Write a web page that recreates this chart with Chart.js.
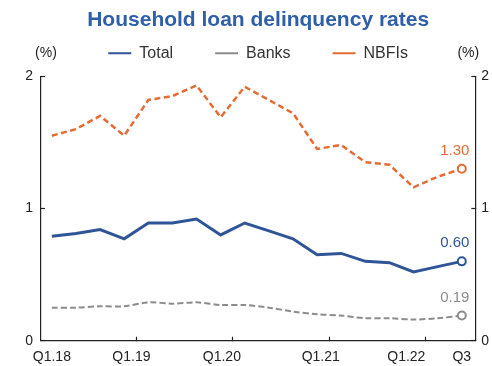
<!DOCTYPE html>
<html lang="en">

<head>
  <meta charset="UTF-8">
  <title>Household loan delinquency rates</title>
  <style>
    html, body { margin: 0; padding: 0; background: #fff; }
    #wrap { width: 492px; height: 366px; }
  </style>
</head>

<body>
  <div id="wrap"><canvas id="chart"></canvas></div>

  <script src="https://cdn.jsdelivr.net/npm/chart.js@4/dist/chart.umd.min.js"></script>

  <script>
    // delinquency rates in %, one value per quarter from Q1.18
    const total = [0.79, 0.81, 0.84, 0.77, 0.89, 0.89, 0.92, 0.80, 0.89, 0.83, 0.77, 0.65, 0.66, 0.60, 0.59, 0.52, 0.56, 0.60]
    const banks = [0.25, 0.25, 0.26, 0.26, 0.29, 0.28, 0.29, 0.27, 0.27, 0.25, 0.22, 0.20, 0.19, 0.17, 0.17, 0.16, 0.17, 0.19]
    const nbfis = [1.55, 1.60, 1.70, 1.55, 1.82, 1.85, 1.93, 1.69, 1.92, 1.82, 1.72, 1.45, 1.48, 1.35, 1.33, 1.16, 1.24, 1.30]

    // x axis labels (placed at quarter index) and year-boundary tick marks
    const xLabels = ['Q1.18', 'Q1.19', 'Q1.20', 'Q1.21', 'Q1.22', 'Q3']
    const xLabelAt = [0, 3.3, 7.05, 11.15, 14.7, 17]
    const yearBreaks = [3.5, 7.5, 11.5, 15.5]
    const yTicks = [0, 1, 2]

    const BLUE = '#2f5597'
    const GREY = '#8c8c8c'
    const ORANGE = '#e36c35'
    const AXIS = '#222'
    const SANS = "'Liberation Sans', Arial, sans-serif"
    const NARROW = "'Liberation Sans Narrow', 'Liberation Sans', Arial, sans-serif"

    Chart.defaults.font.family = SANS
    Chart.defaults.color = AXIS

    const toXY = arr => arr.map((v, i) => ({ x: i, y: v }))
    const lastOnly = ctx => ctx.dataIndex === ctx.dataset.data.length - 1 ? 4 : 0

    // value label above the last point of each line
    const endLabels = {
      id: 'endLabels',
      afterDatasetsDraw(chart) {
        const c = chart.ctx
        c.save()
        c.font = '15px ' + NARROW
        c.textAlign = 'center'
        c.textBaseline = 'middle'
        chart.data.datasets.forEach((ds, i) => {
          const pts = chart.getDatasetMeta(i).data
          const p = pts[pts.length - 1]
          c.fillStyle = ds.borderColor
          c.fillText(ds.data[ds.data.length - 1].y.toFixed(2), p.x - 7, p.y - 18)
        })
        c.restore()
      }
    }

    // "(%)" unit above each y axis
    const units = {
      id: 'units',
      afterDraw(chart) {
        const c = chart.ctx
        const a = chart.chartArea
        c.save()
        c.font = '14px ' + SANS
        c.fillStyle = AXIS
        c.textAlign = 'center'
        c.textBaseline = 'middle'
        c.fillText('(%)', a.left + 5, a.top - 23)
        c.fillText('(%)', a.right - 7, a.top - 23)
        c.restore()
      }
    }

    const yAxis = (position, width, pad) => ({
      type: 'linear',
      position,
      min: 0,
      max: 2,
      afterFit: s => { s.width = width },
      afterBuildTicks: s => { s.ticks = yTicks.map(v => ({ value: v })) },
      ticks: { padding: pad, font: { size: 14 }, color: AXIS },
      grid: { drawOnChartArea: false, tickLength: -4, tickColor: AXIS, tickWidth: 1.2 },
      border: { color: AXIS, width: 1.2 }
    })

    new Chart(document.getElementById('chart'), {
      type: 'line',
      data: {
        datasets: [
          {
            label: 'Total',
            data: toXY(total),
            borderColor: BLUE,
            borderWidth: 3,
            tension: 0,
            pointRadius: lastOnly,
            pointBackgroundColor: '#fff',
            pointBorderColor: BLUE,
            pointBorderWidth: 2
          },
          {
            label: 'Banks',
            data: toXY(banks),
            borderColor: GREY,
            borderWidth: 2,
            borderDash: [6, 3],
            tension: 0.3,
            pointRadius: lastOnly,
            pointBackgroundColor: '#fff',
            pointBorderColor: GREY,
            pointBorderWidth: 2
          },
          {
            label: 'NBFIs',
            data: toXY(nbfis),
            borderColor: ORANGE,
            borderWidth: 2.5,
            borderDash: [6, 3.5],
            tension: 0,
            pointRadius: lastOnly,
            pointBackgroundColor: '#fff',
            pointBorderColor: ORANGE,
            pointBorderWidth: 2
          }
        ]
      },
      options: {
        responsive: true,
        maintainAspectRatio: false,
        animation: false,
        devicePixelRatio: 1,
        events: [],
        layout: { padding: 0 },
        scales: {
          x: {
            type: 'linear',
            position: 'bottom',
            min: -0.45,
            max: 17.56,
            afterFit: s => { s.height = 25.3 },
            afterBuildTicks: s => {
              s.ticks = xLabelAt.map((v, i) => ({ value: v, name: xLabels[i] }))
                .concat(yearBreaks.map(v => ({ value: v, name: '' })))
                .sort((a, b) => a.value - b.value)
            },
            ticks: {
              autoSkip: false,
              maxRotation: 0,
              padding: 12,
              font: { family: NARROW, size: 14 },
              color: AXIS,
              callback: (v, i, ticks) => ticks[i].name
            },
            grid: {
              drawOnChartArea: false,
              tickLength: -4,
              tickWidth: 1.2,
              tickColor: c => (c.tick && c.tick.name) ? 'rgba(0,0,0,0)' : AXIS
            },
            border: { color: AXIS, width: 1.2 }
          },
          gap: {
            type: 'linear',
            axis: 'x',
            position: 'top',
            afterFit: s => { s.height = 5 },
            ticks: { display: false },
            grid: { display: false },
            border: { display: false }
          },
          y: yAxis('left', 41, 12),
          y2: yAxis('right', 16.7, 10)
        },
        plugins: {
          title: {
            display: true,
            text: 'Household loan delinquency rates',
            color: '#2e5fa8',
            font: { size: 21, weight: 'bold' },
            padding: { top: 8, bottom: 2 },
            fullSize: false
          },
          legend: {
            fullSize: false,
            labels: {
              usePointStyle: true,
              pointStyle: 'line',
              pointStyleWidth: 23,
              font: { size: 16 },
              color: '#333',
              padding: 10,
              generateLabels: chart => {
                const items = Chart.defaults.plugins.legend.labels.generateLabels(chart)
                // extra room between the entries
                items.forEach((it, i) => { if (i < items.length - 1) it.text += '\u2002\u2002\u2002\u2002' })
                return items
              }
            }
          },
          tooltip: { enabled: false }
        }
      },
      plugins: [endLabels, units]
    })
  </script>
</body>

</html>
